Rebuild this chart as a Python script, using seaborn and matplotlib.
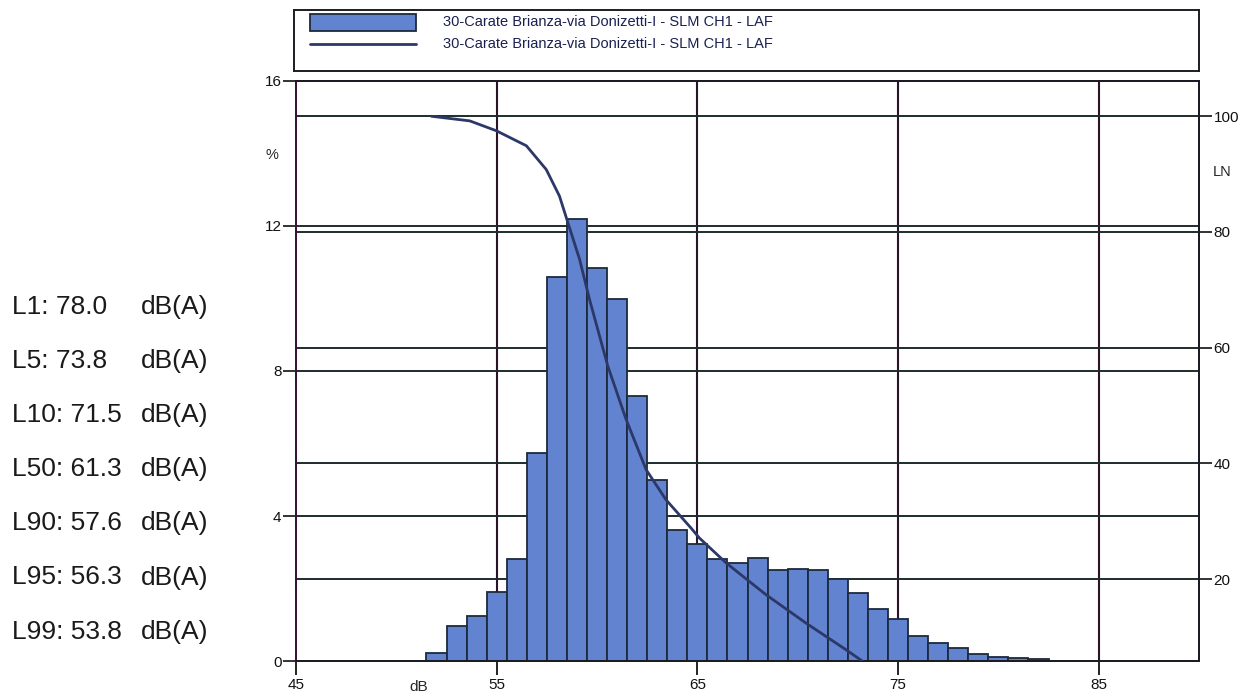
import matplotlib
matplotlib.use("Agg")
import matplotlib.pyplot as plt
from matplotlib.patches import Rectangle
from matplotlib.lines import Line2D
from matplotlib.transforms import blended_transform_factory
import seaborn as sns

# histogram: 1 dB classes, percentage of time
bin_db = [52, 53, 54, 55, 56, 57, 58, 59, 60, 61, 62, 63, 64, 65, 66, 67,
          68, 69, 70, 71, 72, 73, 74, 75, 76, 77, 78, 79, 80, 81, 82]
bin_pct = [0.23, 0.97, 1.25, 1.89, 2.82, 5.73, 10.60, 12.18, 10.83, 9.98,
           7.30, 4.99, 3.61, 3.24, 2.82, 2.69, 2.85, 2.50, 2.55, 2.51,
           2.26, 1.88, 1.43, 1.15, 0.69, 0.50, 0.35, 0.18, 0.12, 0.07, 0.06]

# cumulative LN curve
ln_db = [51.75, 53.66, 54.98, 56.48, 57.47, 58.13, 58.55, 59.13, 59.38, 59.63,
         60.54, 61.45, 62.45, 63.44, 64.69, 65.10, 66.43, 68.42, 70.41, 72.40, 73.23]
ln_val = [100.0, 99.2, 97.5, 94.9, 90.8, 86.2, 81.6, 75.3, 71.8, 68.3,
          56.8, 47.6, 38.9, 33.7, 28.8, 27.1, 22.8, 17.3, 12.4, 7.8, 5.8]

# percentile levels shown on the left
pctl_names = ["L1", "L5", "L10", "L50", "L90", "L95", "L99"]
pctl_levels = [78.0, 73.8, 71.5, 61.3, 57.6, 56.3, 53.8]

x_ticks = [45, 55, 65, 75, 85]
left_ticks = [0, 4, 8, 12, 16]
right_ticks = [20, 40, 60, 80, 100]
series_label = "30-Carate Brianza-via Donizetti-I - SLM CH1 - LAF"

sns.set_style("white")
plt.rcParams["font.family"] = ["Liberation Sans", "DejaVu Sans"]

bar_face = "#6283d0"
bar_edge = "#1c2a3c"
curve_col = "#2b3868"
hgrid = "#1e2c2e"
vgrid = "#2c1428"

fig = plt.figure(figsize=(12.5, 6.95), dpi=100)
ax = fig.add_axes([0.2368, 0.0489, 0.7224, 0.8346])
ax2 = ax.twinx()

ax.set_xlim(45, 90)
ax.set_ylim(0, 16)
ax2.set_ylim(5.83, 106.1)

# grid lines behind the bars
for v in [55, 65, 75, 85]:
    ax.axvline(v, color=vgrid, lw=1.5, zorder=0.5)
for v in [4, 8, 12]:
    ax.axhline(v, color=hgrid, lw=1.4, zorder=0.5)
trans = blended_transform_factory(ax.transAxes, ax2.transData)
for v in right_ticks:
    ax.add_line(Line2D([0, 1], [v, v], transform=trans, color=hgrid, lw=1.4, zorder=0.5))

sns.histplot(x=bin_db, weights=bin_pct, discrete=True, ax=ax,
             color=bar_face, edgecolor=bar_edge, linewidth=1.3, alpha=1, zorder=2)
sns.lineplot(x=ln_db, y=ln_val, ax=ax2, color=curve_col, lw=2.0, zorder=3)

ax.set_xlim(45, 90)
ax.set_ylim(0, 16)
ax2.set_ylim(5.83, 106.1)

ax.set_xticks(x_ticks)
ax.set_yticks(left_ticks)
ax2.set_yticks(right_ticks)
ax.set_xlabel("")
ax.set_ylabel("")
ax2.set_ylabel("")

ax.tick_params(axis="x", direction="out", length=10, width=1.3, pad=2,
               labelsize=11, colors="#111111", bottom=True)
ax.tick_params(axis="y", direction="out", length=9.5, width=1.2, pad=1,
               labelsize=11, colors="#111111", left=True)
ax2.tick_params(axis="y", direction="out", length=9.5, width=1.2, pad=1,
                labelsize=11, colors="#111111", right=True)

for a in (ax, ax2):
    for s in a.spines.values():
        s.set_visible(True)
        s.set_linewidth(1.4)
        s.set_color("#1c1c24")
ax.spines["left"].set_color("#3a1438")
ax2.spines["left"].set_color("#3a1438")

# axis unit labels
xt = blended_transform_factory(ax.transData, ax.transAxes)
ax.text(51.1, -0.045, "dB", transform=xt, ha="center", va="center", fontsize=11)
fig.text(272 / 1250, 1 - 155 / 695, "%", ha="center", va="center", fontsize=10.5)
fig.text(1222 / 1250, 1 - 172 / 695, "LN", ha="center", va="center", fontsize=10.5)

# percentile block on the left
for i, (name, lev) in enumerate(zip(pctl_names, pctl_levels)):
    y = 1 - (307 + 54.1 * i) / 695
    fig.text(12 / 1250, y, f"{name}: {lev:.1f}", ha="left", va="center",
             fontsize=19, color="#1a1a1a")
    fig.text(141 / 1250, y, "dB(A)", ha="left", va="center",
             fontsize=19, color="#1a1a1a")

# legend box at the top
lg = fig.add_axes([294 / 1250, 1 - 71 / 695, 905 / 1250, 61 / 695])
lg.set_xlim(0, 1)
lg.set_ylim(0, 1)
lg.set_xticks([])
lg.set_yticks([])
for s in lg.spines.values():
    s.set_visible(True)
    s.set_linewidth(1.4)
    s.set_color("#1c1c24")
lg.add_patch(Rectangle((0.0177, 0.656), 0.117, 0.278, facecolor=bar_face,
                       edgecolor=bar_edge, lw=1.3))
lg.add_line(Line2D([0.0177, 0.1347], [0.443, 0.443], color=curve_col, lw=2.0))
lg.text(0.1646, 0.80, series_label, ha="left", va="center", fontsize=10.5, color="#1a2050")
lg.text(0.1646, 0.45, series_label, ha="left", va="center", fontsize=10.5, color="#1a2050")

fig.savefig("out.png", dpi=100)
